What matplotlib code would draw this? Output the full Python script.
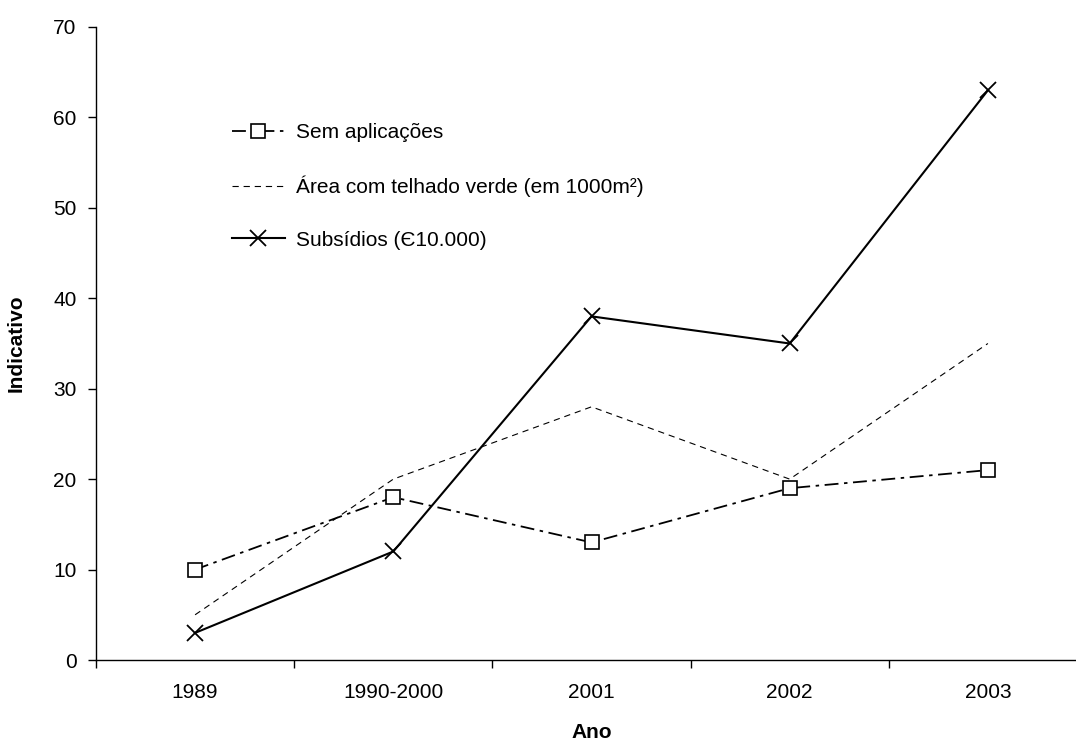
import matplotlib
matplotlib.use("Agg")
from matplotlib import pyplot as plt

anos = ["1989", "1990-2000", "2001", "2002", "2003"]
sem_aplicacoes = [10, 18, 13, 19, 21]
area_telhado = [5, 20, 28, 20, 35]
subsidios = [3, 12, 38, 35, 63]

plt.rcParams['font.family'] = ['Liberation Sans', 'DejaVu Sans']
plt.rcParams['lines.scale_dashes'] = False

W, H = 1076, 742
fig = plt.figure(figsize=(W/100.0, H/100.0), dpi=100)
# axis runs a bit past the right edge, like the spreadsheet export
left, right, bottom, top = 96, 1087, 660, 27
ax = fig.add_axes([left/W, (H-bottom)/H, (right-left)/W, (bottom-top)/H])

x = range(len(anos))
ax.plot(x, sem_aplicacoes, color='black', lw=1.3, dashes=(10, 4, 2.5, 4),
        marker='s', ms=10, mfc='white', mec='black', mew=1.2,
        label='Sem aplicações')
ax.plot(x, area_telhado, color='black', lw=0.8, dashes=(4.5, 3.5),
        label='Área com telhado verde (em 1000m²)')
ax.plot(x, subsidios, color='black', lw=1.5, marker='x', ms=11, mew=1.3,
        label='Subsídios (Є10.000)')

ax.set_xlim(-0.5, len(anos)-0.5)
ax.set_ylim(0, 70)
ax.set_yticks(range(0, 71, 10))
ax.set_xticks([i-0.5 for i in range(len(anos)+1)])
ax.set_xticklabels([])
ax.set_xticks(list(x), minor=True)
ax.set_xticklabels(anos, minor=True)
ax.tick_params(axis='x', which='minor', length=0, pad=16.5, labelsize=15)
ax.tick_params(axis='x', which='major', direction='out', length=6, width=1)
ax.tick_params(axis='y', direction='out', length=6, width=1, pad=8, labelsize=15)

for s in ['top', 'right']:
    ax.spines[s].set_visible(False)
ax.spines['left'].set_linewidth(1)
ax.spines['bottom'].set_linewidth(1)

ax.set_xlabel('Ano', fontsize=15, fontweight='bold', labelpad=15.5)
ax.set_ylabel('Indicativo', fontsize=15, fontweight='bold', labelpad=20)

ax.legend(loc='upper left', bbox_to_anchor=(222/W, 1-113/H), bbox_transform=fig.transFigure,
          frameon=False, fontsize=15, handlelength=2.5, handletextpad=0.55,
          labelspacing=1.6, borderpad=0)

fig.savefig('out.png', dpi=100)
